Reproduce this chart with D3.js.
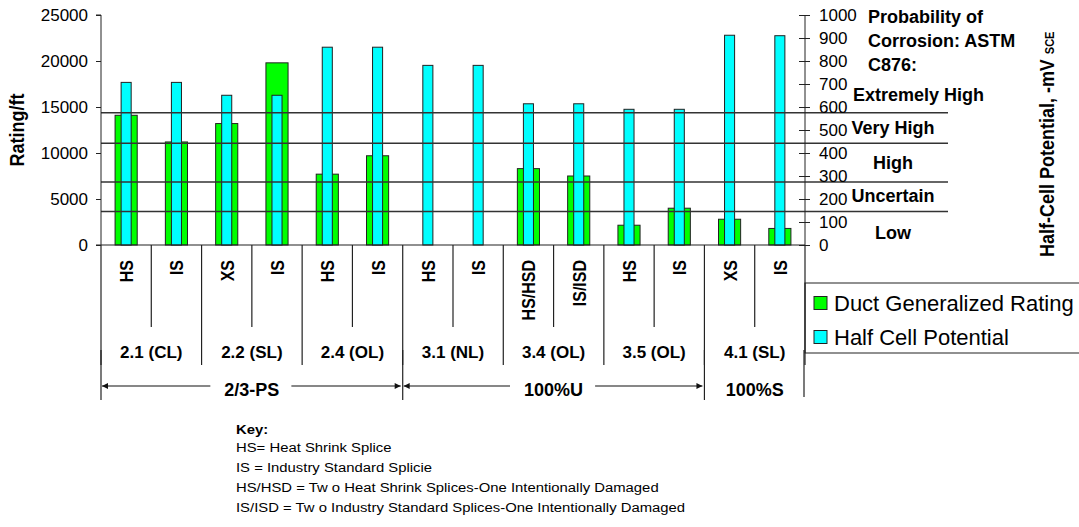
<!DOCTYPE html>
<html>
<head>
<meta charset="utf-8">
<script src="https://cdn.jsdelivr.net/npm/d3@7"></script>
<style>
  body { margin: 0; background: #fff; }
  svg { display: block; font-family: "Liberation Sans", Arial, sans-serif; }
</style>
</head>
<body>
<svg id="chart" width="1079" height="527"></svg>
<script>
// splice types per duct, left to right
const splices = ["HS", "IS", "XS", "IS", "HS", "IS", "HS", "IS", "HS/HSD", "IS/ISD", "HS", "IS", "XS", "IS"];
const ducts = ["2.1 (CL)", "2.2 (SL)", "2.4 (OL)", "3.1 (NL)", "3.4 (OL)", "3.5 (OL)", "4.1 (SL)"];
const grouts = ["2/3-PS", "100%U", "100%S"];
const groutSpan = [3, 3, 1];           // number of ducts in each grout group

const ductRating = [14100, 11200, 13200, 19800, 7700, 9700, 0, 0, 8300, 7500, 2150, 4000, 2800, 1800];
const halfCell = [707, 707, 651, 651, 860, 860, 781, 781, 614, 614, 590, 590, 912, 910];

// ASTM C876 boundaries (mV) and band labels
const thresholds = [146, 274, 442, 575];
const risk = [
  { name: "Extremely High", at: 652 },
  { name: "Very High", at: 508 },
  { name: "High", at: 358 },
  { name: "Uncertain", at: 215 },
  { name: "Low", at: 55 }
];
const keyLines = [
  "HS= Heat Shrink Splice",
  "IS = Industry Standard Splicie",
  "HS/HSD = Tw o Heat Shrink Splices-One Intentionally Damaged",
  "IS/ISD = Tw o Industry Standard Splices-One Intentionally Damaged"
];

const svg = d3.select("#chart");
const plotLeft = 101, plotRight = 805, plotTop = 15, plotBottom = 245;

const x = d3.scaleBand().domain(d3.range(splices.length)).range([plotLeft, plotRight]).padding(0);
const yL = d3.scaleLinear().domain([0, 25000]).range([plotBottom, plotTop]);
const yR = d3.scaleLinear().domain([0, 1000]).range([plotBottom, plotTop]);
const bw = x.bandwidth();

// bars
svg.append("g").selectAll("rect")
  .data(ductRating)
  .join("rect")
  .attr("x", (d, i) => x(i) + bw * 0.28)
  .attr("width", bw * 0.44)
  .attr("y", d => yL(d))
  .attr("height", d => yL(0) - yL(d))
  .attr("fill", "#00ff00")
  .attr("stroke", d => d > 0 ? "#222" : "none")
  .attr("stroke-width", 1);

svg.append("g").selectAll("rect")
  .data(halfCell)
  .join("rect")
  .attr("x", (d, i) => x(i) + bw * 0.4)
  .attr("width", bw * 0.2)
  .attr("y", d => yR(d))
  .attr("height", d => yR(0) - yR(d))
  .attr("fill", "#00ffff")
  .attr("stroke", "#222")
  .attr("stroke-width", 1);

// threshold lines
svg.append("g").selectAll("line")
  .data(thresholds)
  .join("line")
  .attr("x1", plotLeft).attr("x2", 948)
  .attr("y1", d => yR(d)).attr("y2", d => yR(d))
  .attr("stroke", "#333").attr("stroke-width", 1.5);

// axes
const leftAxis = svg.append("g")
  .attr("transform", `translate(${plotLeft},0)`)
  .call(d3.axisLeft(yL).tickValues(d3.range(0, 25001, 5000)).tickSize(5).tickPadding(8).tickFormat(d3.format("d")));
leftAxis.select(".domain").attr("d", `M-5,${plotTop}H0V${plotBottom}H-5`);

const rightAxis = svg.append("g")
  .attr("transform", `translate(${plotRight},0)`)
  .call(d3.axisRight(yR).tickValues(d3.range(0, 1001, 100)).tickSize(5).tickPadding(9).tickFormat(d3.format("d")));
rightAxis.select(".domain").attr("d", `M0,${plotTop}V${plotBottom}`);
rightAxis.selectAll(".tick line").attr("x1", -6);

svg.selectAll(".tick text").attr("font-size", 17).attr("fill", "#000")
  .attr("font-family", "Liberation Sans, Arial, sans-serif");
svg.selectAll(".domain, .tick line").attr("stroke", "#222");

// axis titles
svg.append("text")
  .attr("transform", `translate(24,${(plotTop + plotBottom) / 2}) scale(1.15,1) rotate(-90)`)
  .attr("text-anchor", "middle")
  .attr("font-size", 18).attr("font-weight", "bold")
  .text("Rating/ft");

const rt = svg.append("text")
  .attr("transform", `translate(1054,257) scale(1.1,1) rotate(-90)`)
  .attr("font-size", 18).attr("font-weight", "bold");
rt.append("tspan").text("Half-Cell Potential, -mV ");
rt.append("tspan").attr("font-size", 11).text("SCE");

// probability annotation
const ann = svg.append("g").attr("font-size", 18).attr("font-weight", "bold");
["Probability of", "Corrosion: ASTM", "C876:"].forEach((t, i) => {
  ann.append("text").attr("x", 868).attr("y", 23 + i * 24).text(t);
});
ann.selectAll(".risk")
  .data(risk)
  .join("text")
  .attr("class", "risk")
  .attr("x", d => d.name === "Extremely High" ? 853 : 893)
  .attr("text-anchor", d => d.name === "Extremely High" ? "start" : "middle")
  .attr("y", d => yR(d.at))
  .attr("dy", "0.35em")
  .text(d => d.name);

// category table
const table = svg.append("g").attr("stroke", "#222").attr("stroke-width", 1.2);
table.append("line").attr("x1", plotLeft).attr("x2", plotRight).attr("y1", plotBottom).attr("y2", plotBottom);

svg.append("g").selectAll("text")
  .data(splices)
  .join("text")
  .attr("transform", (d, i) => `translate(${x(i) + bw / 2 + 7},260) scale(1.2,1) rotate(-90)`)
  .attr("text-anchor", "end")
  .attr("font-size", 16).attr("font-weight", "bold")
  .text(d => d);

// separators between splices (inside a duct) and between ducts
d3.range(splices.length + 1).forEach(i => {
  const xx = i < splices.length ? x(i) : plotRight;
  const isDuct = i % 2 === 0;
  table.append("line")
    .attr("x1", xx).attr("x2", xx)
    .attr("y1", plotBottom).attr("y2", isDuct ? 365 : 327);
});

svg.append("g").selectAll("text")
  .data(ducts)
  .join("text")
  .attr("x", (d, i) => x(i * 2) + bw)
  .attr("y", 358)
  .attr("text-anchor", "middle")
  .attr("font-size", 17).attr("font-weight", "bold")
  .text(d => d);

// grout groups with arrows
svg.append("defs").selectAll("marker")
  .data(["arr"])
  .join("marker")
  .attr("id", d => d)
  .attr("viewBox", "0 0 10 10")
  .attr("refX", 10).attr("refY", 5)
  .attr("markerWidth", 8).attr("markerHeight", 6)
  .attr("markerUnits", "userSpaceOnUse")
  .attr("orient", "auto")
  .append("path").attr("d", "M0,0L10,5L0,10Z").attr("fill", "#111");

let startDuct = 0;
grouts.forEach((g, gi) => {
  const x0 = x(startDuct * 2);
  const endIdx = (startDuct + groutSpan[gi]) * 2;
  const x1 = endIdx < splices.length ? x(endIdx) : plotRight;
  startDuct += groutSpan[gi];

  table.append("line").attr("x1", x0).attr("x2", x0).attr("y1", 350).attr("y2", 400);
  if (gi === grouts.length - 1) {
    table.append("line").attr("x1", x1 - 1).attr("x2", x1 - 1).attr("y1", 350).attr("y2", 397);
  }
  const mid = (x0 + x1) / 2;
  const t = svg.append("text")
    .attr("x", mid).attr("y", 396)
    .attr("text-anchor", "middle")
    .attr("font-size", 18).attr("font-weight", "bold")
    .text(g);
  if (groutSpan[gi] > 1) {
    const w = t.node().getComputedTextLength();
    svg.append("line")
      .attr("x1", mid - w / 2 - 14).attr("x2", x0 + 1)
      .attr("y1", 386).attr("y2", 386)
      .attr("stroke", "#111").attr("stroke-width", 1.2)
      .attr("marker-end", "url(#arr)");
    svg.append("line")
      .attr("x1", mid + w / 2 + 12).attr("x2", x1 - 2)
      .attr("y1", 386).attr("y2", 386)
      .attr("stroke", "#111").attr("stroke-width", 1.2)
      .attr("marker-end", "url(#arr)");
  }
});

// legend
const legend = svg.append("g");
legend.append("path")
  .attr("d", `M1079,283H805V353H1079`)
  .attr("fill", "none").attr("stroke", "#222").attr("stroke-width", 1.2);
const legendItems = [
  { name: "Duct Generalized Rating", color: "#00ff00" },
  { name: "Half Cell Potential", color: "#00ffff" }
];
legendItems.forEach((it, i) => {
  const cy = 303 + i * 34;
  legend.append("rect")
    .attr("x", 814).attr("y", cy - 6.5).attr("width", 13).attr("height", 13)
    .attr("fill", it.color).attr("stroke", "#222");
  legend.append("text")
    .attr("x", 834).attr("y", cy + 7.5)
    .attr("font-size", 22)
    .text(it.name);
});

// key
const key = svg.append("g").attr("transform", "translate(236,0) scale(1.1,1)");
key.append("text").attr("x", 0).attr("y", 434)
  .attr("font-size", 13.5).attr("font-weight", "bold").text("Key:");
key.selectAll(".k")
  .data(keyLines)
  .join("text")
  .attr("class", "k")
  .attr("x", 0)
  .attr("y", (d, i) => 452 + i * 20)
  .attr("font-size", 13.5)
  .text(d => d);
</script>
</body>
</html>
